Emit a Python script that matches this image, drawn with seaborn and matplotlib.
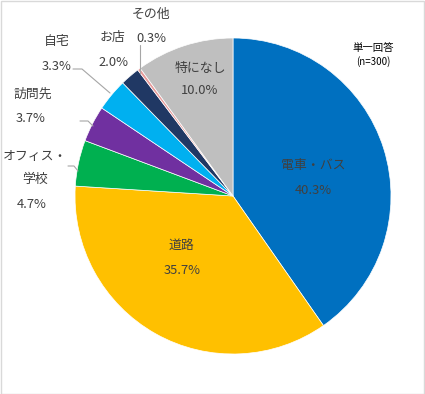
import matplotlib
matplotlib.use("Agg")
import matplotlib.pyplot as plt
import seaborn as sns
import numpy as np

sns.set_theme(style="white")
plt.rcParams['font.family'] = ['Noto Sans CJK JP', 'DejaVu Sans']

categories = ["電車・バス", "道路", "オフィス・\n学校", "訪問先", "自宅", "お店", "その他", "特になし"]
values = [40.3, 35.7, 4.7, 3.7, 3.3, 2.0, 0.3, 10.0]
colors = ["#0070C0", "#FFC000", "#00B050", "#7030A0", "#00B0F0", "#203864", "#E89B9B", "#BFBFBF"]

W, H = 425, 394
fig = plt.figure(figsize=(W / 100, H / 100), dpi=100)
cx, cy, r = 233, 196, 158
ax = fig.add_axes([(cx - r) / W, (H - cy - r) / H, 2 * r / W, 2 * r / H])

wedges, _ = ax.pie(values, colors=colors, startangle=90, counterclock=False,
                   wedgeprops=dict(linewidth=0.5, edgecolor="white"), radius=1.0)
ax.set_xlim(-1, 1)
ax.set_ylim(-1, 1)
ax.set_aspect("auto")
ax.axis("off")

def px(x, y):
    return ((x - cx) / r, (cy - y) / r)

tc = "#404040"
fs = 9.3
# label positions in pixel space (name center, pct center)
label_pos = {
    0: ((313, 166), (313, 190)),
    1: ((181, 245), (182, 270)),
    2: ((35, 168), (32, 204)),
    3: ((33, 94), (31, 118)),
    4: ((57, 42), (57, 66)),
    5: ((113, 38), (113, 62)),
    6: ((151, 14), (151, 39)),
    7: ((200, 68), (200, 91)),
}
for i, (cat, v) in enumerate(zip(categories, values)):
    (nx, ny), (qx, qy) = label_pos[i]
    ls = 1.95 if i == 2 else 1.2
    ax.text(*px(nx, ny), cat, ha="center", va="center", fontsize=fs, color=tc,
            linespacing=ls, clip_on=False)
    ax.text(*px(qx, qy), f"{v:.1f}%", ha="center", va="center", fontsize=fs,
            color=tc, clip_on=False)

# leader lines
lines = [
    [(68, 166), (74, 166), (78, 171)],
    [(80, 121), (88, 121), (93, 126)],
    [(73, 69), (82, 69), (110, 93)],
    [(140, 45), (140, 73)],
]
for pts in lines:
    xs, ys = zip(*[px(a, b) for a, b in pts])
    ax.plot(xs, ys, color="#A6A6A6", linewidth=0.8, clip_on=False)

# note
fig.text(373 / W, 1 - 48 / H, "単一回答", ha="center", va="center", fontsize=7.5, color="black")
fig.text(373 / W, 1 - 62 / H, "(n=300)", ha="center", va="center", fontsize=7, color="black")

# border
fig.patches.append(plt.Rectangle((0.5 / W, 0.5 / H), 1 - 1.5 / W, 1 - 1.5 / H, transform=fig.transFigure,
                                 fill=False, edgecolor="#D9D9D9", linewidth=1))

fig.savefig("out.png", dpi=100, facecolor="white")
